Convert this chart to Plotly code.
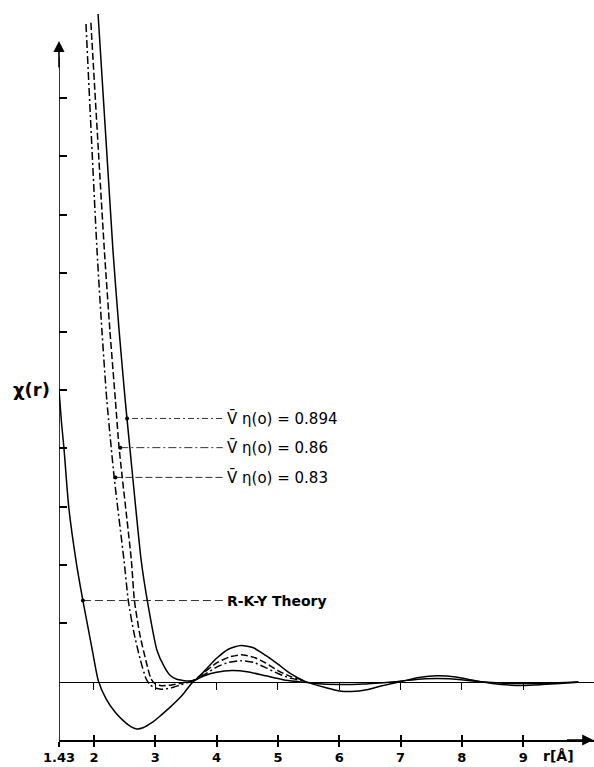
import plotly.graph_objects as go

# ---------------- data (r in Angstrom, chi in axis units) ----------------
rky_r = [1.43, 1.47, 1.51, 1.59, 1.72, 1.82, 1.89, 1.98, 2.07, 2.2, 2.35, 2.5, 2.6, 2.7,
         2.8, 2.95, 3.1, 3.23, 3.45, 3.62, 3.8, 4.0, 4.25, 4.5, 4.8, 5.1, 5.35, 5.6,
         6.0, 6.4, 6.9, 7.4, 7.8, 8.3, 8.8, 9.3, 9.9]
rky_chi = [5.0, 4.45, 4.01, 2.98, 1.99, 1.39, 1.0, 0.5, 0.02, -0.3, -0.53, -0.69, -0.77, -0.81,
           -0.79, -0.7, -0.57, -0.45, -0.22, 0.0, 0.1, 0.16, 0.19, 0.17, 0.1, 0.03, 0.0, -0.03,
           -0.05, -0.04, 0.0, 0.05, 0.05, 0.0, -0.03, -0.03, 0.0]

c894_r = [2.067, 2.31, 2.41, 2.51, 2.59, 2.77, 2.87, 3.03, 3.15, 3.25, 3.35, 3.45, 3.55,
          3.65, 3.8, 4.0, 4.2, 4.4, 4.6, 4.8, 5.0, 5.2, 5.45, 5.8, 6.0, 6.2, 6.45, 6.7,
          7.0, 7.3, 7.6, 7.9, 8.2, 8.5, 8.8, 9.0, 9.3, 9.6, 9.9]
c894_chi = [11.44, 7.39, 6.02, 4.82, 3.96, 2.08, 1.39, 0.53, 0.25, 0.1, 0.04, 0.02, 0.01,
            0.03, 0.18, 0.4, 0.56, 0.62, 0.58, 0.45, 0.3, 0.14, 0.0, -0.11, -0.16, -0.17, -0.14, -0.07,
            0.0, 0.07, 0.1, 0.08, 0.02, -0.03, -0.06, -0.065, -0.05, -0.03, -0.01]

c086_r = [1.95, 2.17, 2.26, 2.35, 2.41, 2.61, 2.66, 2.75, 2.85, 2.93, 3.0, 3.1, 3.25, 3.4,
          3.55, 3.65, 3.8, 4.0, 4.2, 4.4, 4.6, 4.8, 5.0, 5.2, 5.4]
c086_chi = [11.29, 7.39, 6.02, 4.82, 4.01, 2.08, 1.39, 0.8, 0.35, 0.05, -0.04, -0.07, -0.06, -0.03,
            0.0, 0.04, 0.16, 0.32, 0.42, 0.46, 0.42, 0.32, 0.19, 0.09, 0.03]

c083_r = [1.87, 2.05, 2.13, 2.21, 2.33, 2.49, 2.56, 2.65, 2.75, 2.85, 2.92, 3.0, 3.1, 3.25,
          3.4, 3.55, 3.65, 3.8, 4.0, 4.2, 4.4, 4.6, 4.8, 5.0, 5.2, 5.4]
c083_chi = [11.27, 7.39, 6.02, 4.82, 3.5, 2.08, 1.39, 0.85, 0.4, 0.05, -0.06, -0.11, -0.13, -0.11,
            -0.06, -0.01, 0.03, 0.12, 0.25, 0.33, 0.36, 0.33, 0.24, 0.14, 0.06, 0.02]

x_tick_vals = [1.43, 2, 3, 4, 5, 6, 7, 8, 9]
x_tick_text = ["1.43", "2", "3", "4", "5", "6", "7", "8", "9"]
zero_tick_vals = [2, 3, 4, 5, 6, 7, 8, 9]
y_tick_vals = [1, 2, 3, 4, 5, 6, 7, 8, 9, 10]

label_texts = ["V\u0304 \u03b7(o) = 0.894", "V\u0304 \u03b7(o) = 0.86", "V\u0304 \u03b7(o) = 0.83", "R-K-Y Theory"]
label_start_r = [2.54, 2.43, 2.35, 1.82]
label_y = [4.51, 4.01, 3.50, 1.39]
label_end_r = 4.1
label_dash = ["2px,3px,6px,3px", "8px,3px,2px,3px", "7px,3px", "8px,4px"]

X_MIN, X_MAX = 1.43, 10.155
Y_MIN, Y_MAX = -1.0, 11.681

# ---------------- figure ----------------
fig = go.Figure()

curve_specs = [
    (rky_r, rky_chi, "solid"),
    (c894_r, c894_chi, "solid"),
    (c086_r, c086_chi, "7px,3px"),
    (c083_r, c083_chi, "8px,3px,2px,3px"),
]
for xs, ys, dash in curve_specs:
    fig.add_trace(go.Scatter(x=xs, y=ys, mode="lines",
                             line=dict(color="black", width=1.5, dash=dash, shape="spline", smoothing=0.6),
                             hoverinfo="skip", showlegend=False))

# leader lines and markers
for sr, ly, dash in zip(label_start_r, label_y, label_dash):
    fig.add_trace(go.Scatter(x=[sr, label_end_r], y=[ly, ly], mode="lines",
                             line=dict(color="black", width=0.8, dash=dash),
                             hoverinfo="skip", showlegend=False))
fig.add_trace(go.Scatter(x=label_start_r, y=label_y, mode="markers",
                         marker=dict(color="black", size=4),
                         hoverinfo="skip", showlegend=False))

for txt, ly in zip(label_texts, label_y):
    bold = txt.startswith("R")
    fig.add_annotation(x=label_end_r, y=ly, text=("<b>%s</b>" % txt) if bold else txt,
                       showarrow=False, xanchor="left", yanchor="middle", xshift=2,
                       font=dict(family="DejaVu Sans", size=15 if not bold else 14, color="black"))

# y axis line and arrow
fig.add_shape(type="line", x0=X_MIN, x1=X_MIN, y0=Y_MIN, y1=10.7, xref="x", yref="y",
              line=dict(color="black", width=1.6))
fig.add_annotation(x=X_MIN, y=10.98, ax=0, ay=28, xref="x", yref="y", text="",
                   showarrow=True, arrowhead=2, arrowsize=1.4, arrowwidth=1.6, arrowcolor="black")
# x axis arrow
fig.add_annotation(x=X_MAX - 0.01, y=Y_MIN, ax=-28, ay=0, xref="x", yref="y", text="",
                   showarrow=True, arrowhead=2, arrowsize=1.4, arrowwidth=1.6, arrowcolor="black")

fig.add_annotation(x=-0.052, y=5.0, xref="paper", yref="y", text="<b>\u03c7(r)</b>",
                   showarrow=False, xanchor="center", yanchor="middle",
                   font=dict(family="DejaVu Sans", size=18, color="black"))
fig.add_annotation(x=9.58, y=-0.021, xref="x", yref="paper", text="<b>r[\u00c5]</b>",
                   showarrow=False, xanchor="center", yanchor="middle",
                   font=dict(family="DejaVu Sans", size=14, color="black"))

fig.update_layout(
    width=594, height=767,
    margin=dict(l=59, r=0, t=0, b=27, pad=0),
    paper_bgcolor="white", plot_bgcolor="white",
    showlegend=False,
    xaxis=dict(range=[X_MIN, X_MAX], showgrid=False, zeroline=False, showline=True,
               linecolor="black", linewidth=1.6, ticks="outside", ticklen=5, tickwidth=1.5,
               tickcolor="black", tickvals=x_tick_vals, ticktext=x_tick_text,
               tickfont=dict(family="DejaVu Sans", size=13, color="black", weight="bold")),
    xaxis2=dict(range=[X_MIN, X_MAX], overlaying="x", anchor="y", side="bottom",
                showgrid=False, zeroline=False, showline=False, ticks="inside", ticklen=5,
                tickwidth=1.5, tickcolor="black", tickvals=zero_tick_vals, showticklabels=False),
    xaxis3=dict(range=[X_MIN, X_MAX], overlaying="x", anchor="free",
                position=(0 - Y_MIN) / (Y_MAX - Y_MIN), side="bottom",
                showgrid=False, zeroline=False, showline=True, linecolor="black", linewidth=1.3,
                ticks="outside", ticklen=7, tickwidth=1.3, tickcolor="black",
                tickvals=zero_tick_vals, showticklabels=False),
    yaxis=dict(range=[Y_MIN, Y_MAX], showgrid=False, zeroline=False, showline=False,
               ticks="inside", ticklen=8, tickwidth=1.5, tickcolor="black",
               tickvals=y_tick_vals, showticklabels=False),
)
# dummy traces to activate the overlay axes
fig.add_trace(go.Scatter(x=[X_MIN], y=[Y_MIN], xaxis="x2", mode="markers",
                         marker=dict(opacity=0), hoverinfo="skip", showlegend=False))
fig.add_trace(go.Scatter(x=[X_MIN], y=[Y_MIN], xaxis="x3", mode="markers",
                         marker=dict(opacity=0), hoverinfo="skip", showlegend=False))

fig.write_html("out.html", config={"displayModeBar": False},
               post_script="document.body.style.margin='0';document.body.style.overflow='hidden';")
